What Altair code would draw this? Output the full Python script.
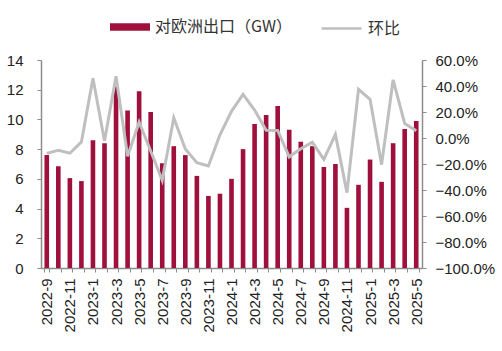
import altair as alt
import pandas as pd

months = ["2022-9", "2022-10", "2022-11", "2022-12",
          "2023-1", "2023-2", "2023-3", "2023-4", "2023-5", "2023-6",
          "2023-7", "2023-8", "2023-9", "2023-10", "2023-11", "2023-12",
          "2024-1", "2024-2", "2024-3", "2024-4", "2024-5", "2024-6",
          "2024-7", "2024-8", "2024-9", "2024-10", "2024-11", "2024-12",
          "2025-1", "2025-2", "2025-3", "2025-4", "2025-5"]
export_gw = [7.6, 6.85, 6.05, 5.85,
             8.6, 8.4, 12.2, 10.6, 11.9, 10.5,
             7.05, 8.2, 7.6, 6.2, 4.85, 5.0,
             6.0, 8.0, 9.7, 10.3, 10.9, 9.3,
             8.5, 8.2, 6.8, 7.0, 4.05, 5.6,
             7.3, 5.8, 8.4, 9.35, 9.9]
mom_pct = [-11.8, -9.5, -11.7, -3.0,
           46.0, -2.3, 47.5, -14.0, 12.3, -10.0,
           -32.5, 15.5, -8.5, -19.0, -21.5, 2.5,
           20.5, 33.5, 21.5, 6.0, 5.8, -14.5,
           -8.3, -3.2, -16.5, 2.8, -42.0, 37.5,
           29.8, -20.5, 44.8, 11.2, 5.5]

bar_name = "对欧洲出口（GW）"
line_name = "环比"

df = pd.DataFrame({
    "month": months,
    "gw": export_gw,
    "mom": [v / 100 for v in mom_pct],
    "s_bar": bar_name,
    "s_line": line_name,
})

AXIS_COLOR = "#8C8C8C"
LABEL_COLOR = "#222222"
FONT = "Liberation Sans"
CJK = "Noto Sans CJK SC"

x_enc = alt.X(
    "month:N", sort=months, title=None,
    scale=alt.Scale(paddingInner=0.6, paddingOuter=0.3),
    axis=alt.Axis(
        labelAngle=-90, labelFont=FONT, labelFontSize=15, labelColor=LABEL_COLOR,
        labelExpr="toNumber(split(datum.value, '-')[1]) % 2 == 1 ? datum.value : ''",
        labelPadding=6, labelOverlap=False, tickBand="extent",
        tickSize=4, tickColor=AXIS_COLOR, domainColor=AXIS_COLOR, domainWidth=1.5,
        grid=False,
    ),
)

bars = alt.Chart(df).mark_bar().encode(
    x=x_enc,
    y=alt.Y("gw:Q", title=None,
            scale=alt.Scale(domain=[0, 14]),
            axis=alt.Axis(values=[0, 2, 4, 6, 8, 10, 12, 14], orient="left",
                          labelFont=FONT, labelFontSize=15, labelColor=LABEL_COLOR,
                          labelPadding=14, tickSize=4, tickColor=AXIS_COLOR,
                          domainColor=AXIS_COLOR, domainWidth=1.5, grid=False)),
    fill=alt.Fill("s_bar:N", title=None,
                  scale=alt.Scale(domain=[bar_name], range=["#A0103C"]),
                  legend=alt.Legend(orient="none", legendX=69, legendY=-53,
                                    symbolType="M-1,-0.19H1V0.19H-1Z", symbolSize=1600,
                                    symbolStrokeWidth=0,
                                    labelFont=CJK, labelFontSize=16, labelColor="#333333",
                                    labelOffset=5, padding=0)),
)

line = alt.Chart(df).mark_line(strokeWidth=3).encode(
    x=alt.X("month:N", sort=months),
    y=alt.Y("mom:Q", title=None,
            scale=alt.Scale(domain=[-1.0, 0.6]),
            axis=alt.Axis(values=[-1.0, -0.8, -0.6, -0.4, -0.2, 0, 0.2, 0.4, 0.6],
                          format=".1%", orient="right",
                          labelFont=FONT, labelFontSize=15, labelColor=LABEL_COLOR,
                          labelPadding=9, tickSize=4, tickColor=AXIS_COLOR,
                          domainColor=AXIS_COLOR, domainWidth=1.5, grid=False)),
    stroke=alt.Stroke("s_line:N", title=None,
                      scale=alt.Scale(domain=[line_name], range=["#BFBFBF"]),
                      legend=alt.Legend(orient="none", legendX=279, legendY=-53,
                                        symbolType="stroke", symbolSize=1600,
                                        symbolStrokeWidth=2.5,
                                        labelFont=CJK, labelFontSize=16, labelColor="#333333",
                                        labelOffset=5, padding=0)),
)

chart = alt.layer(bars, line).resolve_scale(
    y="independent", fill="independent", stroke="independent"
).properties(
    width=381, height=208,
    autosize=alt.AutoSizeParams(type="none"),
    padding={"left": 41, "top": 60, "right": 80, "bottom": 83},
    background="white",
).configure_view(stroke=None)

chart.save("out.html", embed_options={"renderer": "svg", "actions": False})
